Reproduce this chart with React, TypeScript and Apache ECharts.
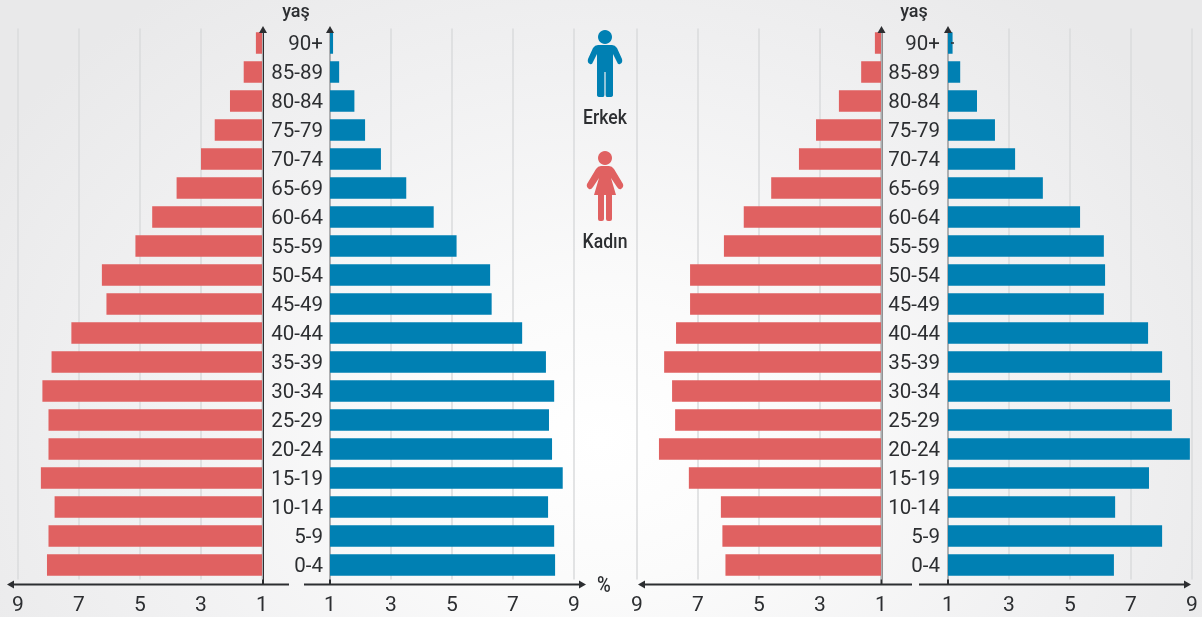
import React, { useEffect, useRef } from "react";
import * as echarts from "echarts";

const ageGroups = ["90+","85-89","80-84","75-79","70-74","65-69","60-64","55-59","50-54","45-49","40-44","35-39","30-34","25-29","20-24","15-19","10-14","5-9","0-4"];
const leftKadin = [1.2,1.6,2.05,2.55,3.0,3.8,4.6,5.15,6.25,6.1,7.25,7.9,8.2,8.0,8.0,8.25,7.8,8.0,8.05];
const leftErkek = [1.1,1.3,1.8,2.15,2.67,3.5,4.4,5.15,6.25,6.3,7.3,8.08,8.35,8.18,8.28,8.63,8.15,8.35,8.38];
const rightKadin = [1.2,1.65,2.38,3.13,3.69,4.6,5.5,6.15,7.26,7.26,7.72,8.11,7.85,7.75,8.28,7.3,6.25,6.2,6.1];
const rightErkek = [1.15,1.4,1.95,2.54,3.2,4.11,5.33,6.11,6.15,6.11,7.56,8.02,8.28,8.34,8.93,7.59,6.48,8.02,6.44];
const axisStart = 1;
const axisEnd = 9;

const RED = "#e06161";
const BLUE = "#0080b3";
const INK = "#2c2e31";
const GRID = "#dadbdc";
const FONT = "Roboto, sans-serif";

const manD = "M-7 45 L7 45 Q10 45 12 48 L17 59 Q18 63 15 64 Q13 65 12 62 L8 54 L8 95 Q8 97 5 97 L2 97 Q0.6 97 0.6 95 L0.6 72 L-0.6 72 L-0.6 95 Q-0.6 97 -2 97 L-5 97 Q-8 97 -8 95 L-8 54 L-12 62 Q-13 65 -15 64 Q-18 63 -17 59 L-12 48 Q-10 45 -7 45 Z";
const womanD = "M-4 166 L4 166 Q7 166 9 169 L18 184 Q19 187 16 189 Q14 190 12 187 L6 178 L11 195 L7 195 L7 219 Q7 221 5 221 L3 221 Q1 221 1 219 L1 195 L-1 195 L-1 219 Q-1 221 -3 221 L-5 221 Q-7 221 -7 219 L-7 195 L-11 195 L-6 178 L-12 187 Q-14 190 -16 189 Q-19 187 -18 184 L-9 169 Q-7 166 -4 166 Z";
echarts.graphic.registerShape("manIcon", echarts.graphic.extendPath(manD, {}) as any);
echarts.graphic.registerShape("womanIcon", echarts.graphic.extendPath(womanD, {}) as any);

const TOP = 28.5;
const HEIGHT = 551;
const panels = [
  { left: 18, width: 244, inverse: true, data: leftKadin, color: RED, labels: false, margin: 7 },
  { left: 330, width: 244, inverse: false, data: leftErkek, color: BLUE, labels: true, margin: 7 },
  { left: 637, width: 244, inverse: true, data: rightKadin, color: RED, labels: false, margin: 7 },
  { left: 948, width: 244, inverse: false, data: rightErkek, color: BLUE, labels: true, margin: 8 },
];

function hArrow(x1: number, x2: number, y: number) {
  const d = x2 > x1 ? 1 : -1;
  return [
    { type: "line", z: 20, shape: { x1, y1: y, x2: x2 - d * 4, y2: y }, style: { stroke: INK, lineWidth: 2 } },
    { type: "polygon", z: 20, shape: { points: [[x2, y], [x2 - d * 7, y - 4], [x2 - d * 7, y + 4]] }, style: { fill: INK } },
  ];
}
function vArrow(x: number, y1: number, y2: number) {
  return [
    { type: "line", z: 0, shape: { x1: x, y1, x2: x, y2: y2 }, style: { stroke: INK, lineWidth: 2 } },
    { type: "polygon", z: 20, shape: { points: [[x, y1 - 6], [x - 4, y1 + 1], [x + 4, y1 + 1]] }, style: { fill: INK } },
  ];
}
function label(text: string, x: number, y: number, size = 20, scaleX = 0.88) {
  return { type: "text", z: 20, x, y, scaleX, style: { text, fill: INK, font: `500 ${size}px ${FONT}`, align: "center", verticalAlign: "middle" } };
}

export default function App() {
  const ref = useRef<HTMLDivElement>(null);
  useEffect(() => {
    document.body.style.margin = "0";
    const chart = echarts.init(ref.current!, null, { renderer: "svg" });
    chart.setOption({
      animation: false,
      grid: panels.map((p) => ({ left: p.left, width: p.width, top: TOP, height: HEIGHT })),
      xAxis: panels.map((p, i) => ({
        type: "value",
        gridIndex: i,
        inverse: p.inverse,
        min: 0,
        max: axisEnd - axisStart,
        interval: 2,
        axisLine: { show: false },
        axisTick: { show: false },
        axisLabel: {
          margin: 14,
          formatter: (v: number) => String(v + axisStart),
          fontFamily: FONT,
          fontSize: 21,
          color: INK,
          hideOverlap: false,
        },
        splitLine: { show: true, lineStyle: { color: GRID, width: 1.5 } },
      })),
      yAxis: panels.map((p, i) => ({
        type: "category",
        gridIndex: i,
        inverse: true,
        data: ageGroups,
        axisLine: { show: false },
        axisTick: { show: false },
        axisLabel: {
          show: p.labels,
          margin: p.margin,
          interval: 0,
          fontFamily: FONT,
          fontSize: 20.5,
          color: INK,
        },
      })),
      series: panels.map((p, i) => ({
        type: "bar",
        xAxisIndex: i,
        yAxisIndex: i,
        barWidth: 21.5,
        z: 5,
        itemStyle: { color: p.color },
        data: p.data.map((v) => +(v - axisStart).toFixed(2)),
      })),
      graphic: [
        ...vArrow(263, 32, 584),
        ...vArrow(330, 32, 584),
        ...vArrow(881.5, 32, 584),
        ...vArrow(948, 32, 584),
        ...hArrow(289, 7, 584.5),
        ...hArrow(304, 586, 584.5),
        ...hArrow(912, 638, 584.5),
        ...hArrow(919, 1191, 584.5),
        label("yaş", 296, 10, 18, 1),
        label("yaş", 914, 10, 18, 1),
        label("%", 604, 584, 22, 0.85),
        label("Erkek", 605, 118),
        label("Kadın", 605, 242),
        { type: "circle", z: 20, shape: { cx: 605, cy: 37, r: 7 }, style: { fill: BLUE } },
        { type: "manIcon", z: 20, x: 605, y: 0, style: { fill: BLUE } },
        { type: "circle", z: 20, shape: { cx: 605, cy: 158, r: 7 }, style: { fill: RED } },
        { type: "womanIcon", z: 20, x: 605, y: 0, style: { fill: RED } },
        { type: "line", z: 20, shape: { x1: 951, y1: 43, x2: 954, y2: 43 }, style: { stroke: INK, lineWidth: 1.5 } },
      ],
    });
    return () => chart.dispose();
  }, []);
  return (
    <div
      ref={ref}
      style={{
        position: "fixed",
        left: 0,
        top: 0,
        width: 1202,
        height: 617,
        background: "radial-gradient(ellipse 720px 560px at 600px 440px, #ffffff 0%, #fbfbfb 25%, #f1f1f2 65%, #e9e9ea 100%)",
      }}
    />
  );
}
